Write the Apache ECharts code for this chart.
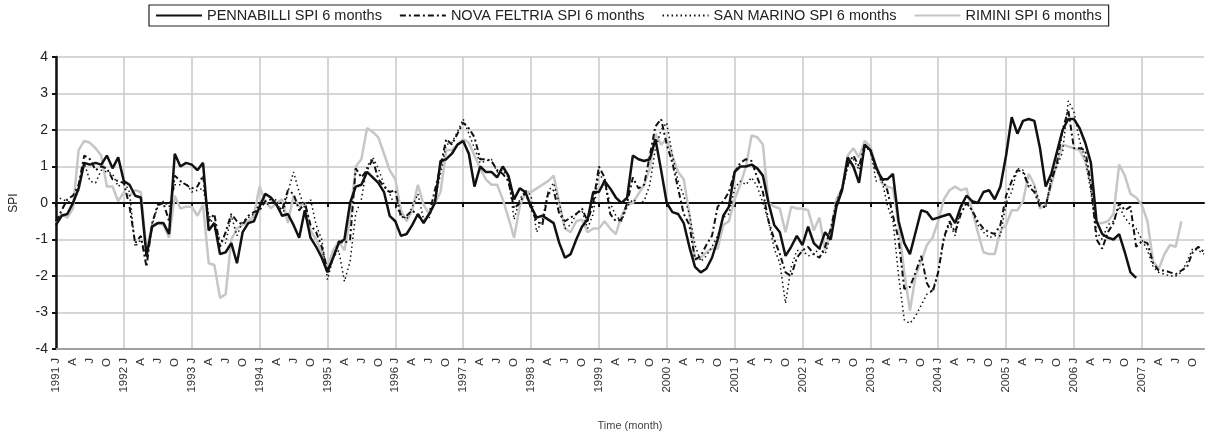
<!DOCTYPE html>
<html>
<head>
<meta charset="utf-8">
<script src="https://cdn.jsdelivr.net/npm/echarts@6/dist/echarts.min.js"></script>
<style>
  html, body { margin: 0; padding: 0; background: #fff; }
  #chart { width: 1206px; height: 436px; }
</style>
</head>
<body>
<div id="chart"></div>
<script>
// Monthly SPI (6 months) series, January 1991 to December 2007
const years = [1991, 1992, 1993, 1994, 1995, 1996, 1997, 1998, 1999, 2000, 2001, 2002, 2003, 2004, 2005, 2006, 2007];
const monthInitials = ['J', 'F', 'M', 'A', 'M', 'J', 'J', 'A', 'S', 'O', 'N', 'D'];
const yTicks = [-4, -3, -2, -1, 0, 1, 2, 3, 4];

const pennabilli = [
  -0.6, -0.35, -0.3, 0.0, 0.4, 1.1, 1.05, 1.1, 1.05, 1.3, 0.95, 1.25,
  0.6, 0.5, 0.2, 0.15, -1.45, -0.65, -0.55, -0.55, -0.85, 1.35, 1.0, 1.1,
  1.05, 0.9, 1.1, -0.75, -0.55, -1.4, -1.35, -1.1, -1.65, -0.8, -0.55, -0.5,
  -0.1, 0.25, 0.15, -0.05, -0.35, -0.3, -0.6, -0.95, -0.2, -0.95, -1.2, -1.5,
  -1.9, -1.5, -1.1, -1.0, 0.0, 0.45, 0.5, 0.85, 0.7, 0.55, 0.3, -0.35,
  -0.5, -0.9, -0.85, -0.6, -0.3, -0.55, -0.3, 0.0, 1.15, 1.2, 1.35, 1.6,
  1.7, 1.35, 0.45, 1.0, 0.85, 0.85, 0.7, 1.0, 0.75, 0.1, 0.4, 0.3,
  -0.1, -0.4, -0.35, -0.45, -0.55, -1.1, -1.5, -1.4, -1.0, -0.65, -0.45, 0.3,
  0.3, 0.6, 0.4, 0.15, 0.0, 0.15, 1.3, 1.2, 1.15, 1.2, 1.75, 0.9,
  0.0, -0.25, -0.3, -0.55, -1.2, -1.75, -1.9, -1.8, -1.5, -1.0, -0.35, -0.1,
  0.85, 1.0, 1.0, 1.05, 0.95, 0.75, 0.0, -0.6, -0.8, -1.45, -1.2, -0.9,
  -1.15, -0.65, -1.1, -1.25, -0.8, -1.0, -0.1, 0.35, 1.25, 1.0, 0.55, 1.6,
  1.45, 1.0, 0.65, 0.65, 0.8, -0.5, -1.1, -1.4, -0.8, -0.2, -0.25, -0.45,
  -0.4, -0.35, -0.3, -0.55, -0.1, 0.2, 0.05, 0.0, 0.3, 0.35, 0.1, 0.45,
  1.3, 2.35, 1.9, 2.25, 2.3, 2.25, 1.5, 0.45, 0.8, 1.4, 2.0, 2.3,
  2.3, 2.05, 1.65, 1.1, -0.5, -0.85, -0.95, -1.0, -0.85, -1.35, -1.9, -2.05,
  null, null, null, null, null, null, null, null, null, null, null, null
];

const novaFeltria = [
  -0.5, -0.2, 0.1, 0.2, 0.5, 1.3, 1.2, 0.9, 1.0, 0.95, 0.65, 0.6,
  0.55, -0.1, -1.1, -0.9, -1.75, -0.55, -0.05, 0.0, -0.5, 0.75, 0.6, 0.5,
  0.4, 0.45, 0.75, -0.5, -0.3, -1.2, -0.8, -0.3, -0.5, -0.6, -0.35, -0.25,
  -0.2, 0.05, 0.1, -0.05, -0.2, 0.35, 0.25, -0.2, 0.0, -0.6, -0.8, -1.2,
  -1.85, -1.5, -1.05, -1.1, -1.0, 0.95, 0.7, 0.9, 1.2, 0.65, 0.45, 0.3,
  0.35, -0.4, -0.35, -0.2, -0.35, -0.5, -0.3, 0.35, 1.0, 1.75, 1.6, 1.9,
  2.2, 2.05, 1.8, 1.2, 1.2, 1.15, 0.9, 0.8, 0.6, -0.15, 0.0, 0.3,
  -0.15, -0.5, -0.6, 0.25, 0.35, -0.3, -0.5, -0.4, -0.3, -0.15, -0.5, 0.0,
  1.0, 0.7, -0.3, -0.5, -0.45, 0.0, 0.7, 0.4, 0.5, 1.3, 2.1, 2.3,
  1.6, 1.1, 0.4, -0.3, -0.6, -1.55, -1.45, -1.15, -0.9, -0.1, 0.05, 0.3,
  0.85, 1.1, 1.2, 1.15, 0.7, 0.3, -0.5, -1.0, -1.4, -1.9, -2.0, -1.5,
  -1.3, -1.2, -1.4, -1.5, -1.2, -0.7, 0.0, 0.4, 1.05, 1.3, 1.0, 1.6,
  1.45, 0.9, 0.7, 0.35, -0.35, -1.0, -2.35, -2.3, -1.9, -1.45, -2.2, -2.45,
  -1.9, -0.95, -0.5, -0.8, -0.3, 0.0, -0.2, -0.5, -0.7, -0.8, -0.85, -0.6,
  0.2, 0.6, 0.9, 0.85, 0.45, 0.3, -0.1, -0.1, 0.6, 1.1, 2.0, 2.55,
  1.5, 1.5, 1.45, 0.5, -1.0, -1.25, -0.8, -0.55, 0.0, -0.2, -0.1, -1.2,
  -1.05, -1.1, -1.65, -1.85, -1.85, -1.9, -1.95, -1.85, -1.75, -1.35, -1.2, -1.35
];

const sanMarino = [
  0.2, 0.1, 0.05, 0.0, 0.35, 1.1, 0.6, 0.55, 0.9, 0.85, 0.8, 0.45,
  0.6, 0.3, -1.2, -1.0, -1.5, -0.6, -0.1, 0.05, -0.1, 0.5, 0.5, 0.55,
  0.3, 0.35, 0.4, -0.3, -0.7, -1.0, -1.1, -0.35, -0.9, -0.5, -0.4, -0.3,
  0.0, -0.05, 0.0, 0.1, -0.4, 0.3, 0.85, 0.3, -0.15, 0.1, -0.6, -1.0,
  -2.1, -1.5, -1.3, -2.15, -1.6, -0.3, 0.1, 1.0, 1.25, 0.95, 0.5, 0.25,
  -0.1, -0.3, -0.45, -0.1, 0.25, -0.45, -0.4, 0.1, 0.8, 1.6, 1.65, 1.95,
  2.3, 1.9, 1.5, 1.1, 1.15, 1.2, 0.85, 0.9, 0.7, -0.45, 0.1, 0.35,
  0.2, -0.8, -0.45, 0.3, 0.55, 0.0, -0.7, -0.6, -0.3, -0.2, -0.7, -0.3,
  0.85, 0.55, 0.0, -0.35, -0.5, -0.1, 0.1, 0.0, 0.05, 0.5, 1.5, 2.0,
  2.2, 1.3, 0.6, 0.2, -0.3, -1.15, -1.6, -1.45, -1.2, -0.9, -0.4, -0.3,
  0.4, 0.6, 0.5, 0.7, 0.45, 0.0, -0.5, -1.25, -1.65, -2.75, -1.75, -1.3,
  -1.3, -1.45, -1.4, -1.25, -1.4, -0.9, 0.0, 0.35, 1.0, 1.2, 0.9, 1.45,
  1.5, 0.6, 0.65, -0.05, -0.5, -2.0, -3.2, -3.3, -3.1, -2.8, -2.5, -2.4,
  -1.9, -1.0, -0.55, -0.9, -0.1, 0.0, -0.2, -0.6, -0.8, -0.95, -0.9, -0.9,
  0.0, 0.3, 0.95, 0.9, 0.5, 0.45, 0.0, -0.15, 0.7, 1.0, 1.4, 2.8,
  2.5, 1.7, 1.2, 0.3, -0.8, -1.0, -0.6, -0.5, -0.1, -0.4, -0.6, -0.7,
  -1.0, -1.3, -1.75, -1.9, -1.95, -2.0, -2.0, -1.9, -1.6, -1.25, -1.3, -1.4
];

const rimini = [
  -0.55, -0.3, -0.4, -0.15, 1.45, 1.7, 1.65, 1.5, 1.3, 0.45, 0.45, 0.05,
  0.3, 0.2, 0.35, 0.3, -1.3, -0.6, -0.55, -0.6, -0.95, 0.2, -0.15, -0.1,
  -0.1, -0.35, -0.05, -1.65, -1.7, -2.6, -2.5, -1.0, -0.7, -0.6, -0.5, -0.35,
  0.45, 0.05, -0.15, 0.0, 0.1, -0.55, 0.2, -0.1, 0.0, -0.75, -1.0, -1.35,
  -1.75, -1.3, -1.05, -1.3, -0.4, 1.0, 1.2, 2.05, 1.95, 1.8, 1.35, 0.9,
  0.65, -0.2, -0.5, -0.2, 0.5, -0.05, -0.3, 0.0, 0.3, 1.45, 1.45, 1.6,
  1.75, 1.65, 1.3, 0.95, 0.65, 0.5, 0.5, 0.1, -0.4, -0.95, -0.1, 0.3,
  0.3, 0.4, 0.5, 0.6, 0.75, 0.0, -0.7, -0.8, -0.5, -0.45, -0.8, -0.7,
  -0.7, -0.5, -0.7, -0.85, -0.35, -0.05, 0.0, 0.25, 0.5, 0.95, 1.9, 1.6,
  1.75, 1.3, 0.85, 0.65, -0.3, -1.55, -1.5, -1.35, -1.25, -1.25, -0.6, -0.5,
  0.1, 0.5, 1.0, 1.85, 1.8, 1.6, 0.0, -0.1, -0.15, -0.8, -0.1, -0.15,
  -0.15, -0.2, -0.75, -0.4, -1.3, -0.8, 0.1, 0.4, 1.3, 1.5, 1.25, 1.7,
  1.55, 1.0, 0.55, 0.45, 0.4, -0.6, -1.9, -2.95, -2.0, -1.6, -1.15, -0.95,
  -0.5, 0.1, 0.35, 0.45, 0.35, 0.4, -0.2, -0.8, -1.35, -1.4, -1.4, -0.75,
  -0.6, -0.2, -0.2, 0.05, 0.8, 0.5, -0.15, -0.05, 0.5, 1.1, 1.6, 1.55,
  1.5, 1.45, 1.15, 0.5, -0.55, -0.55, -0.5, -0.3, 1.05, 0.75, 0.25, 0.15,
  -0.05, -0.5, -1.6, -1.8, -1.4, -1.15, -1.2, -0.5, null, null, null, null
];

// Category labels: "1991 J" for January, month initials otherwise
const categories = [];
years.forEach(function (y) {
  monthInitials.forEach(function (m, k) {
    categories.push(k === 0 ? y + ' J' : m);
  });
});

const font = "'Liberation Sans', Arial, sans-serif";
const isQuarter = function (i) { return i % 3 === 0; };
const isYearStart = function (i) { return i % 12 === 0; };

const chart = echarts.init(document.getElementById('chart'), null, { renderer: 'canvas' });

chart.setOption({
  animation: false,
  backgroundColor: '#ffffff',
  legend: {
    top: 5,
    left: 149,
    itemWidth: 46,
    itemHeight: 10,
    itemGap: 17,
    padding: [3, 7, 3, 6],
    borderColor: '#222',
    borderWidth: 1.2,
    itemStyle: { opacity: 0 },
    textStyle: { fontFamily: font, fontSize: 14.5, color: '#222' }
  },
  grid: { left: 54, right: 2, top: 57, height: 297, containLabel: false },
  xAxis: [
    {
      type: 'category',
      data: categories,
      boundaryGap: false,
      axisLine: { onZero: false, lineStyle: { color: '#a0a0a0', width: 2 } },
      axisTick: { show: false },
      axisLabel: {
        interval: isQuarter,
        rotate: 90,
        margin: 9,
        fontFamily: font,
        fontSize: 11.5,
        color: '#333'
      },
      splitLine: { show: true, interval: isYearStart, lineStyle: { color: '#c8c8c8', width: 1.5 } },
      name: 'Time (month)',
      nameLocation: 'middle',
      nameGap: 71,
      nameTextStyle: { fontFamily: font, fontSize: 11, color: '#444' }
    },
    {
      type: 'category',
      data: categories,
      boundaryGap: false,
      position: 'bottom',
      axisLine: { onZero: true, lineStyle: { color: '#111', width: 2 } },
      axisTick: { show: true, interval: isYearStart, length: 4, lineStyle: { color: '#111', width: 2 } },
      axisLabel: { show: false },
      splitLine: { show: false }
    }
  ],
  yAxis: {
    type: 'value',
    min: yTicks[0],
    max: yTicks[yTicks.length - 1],
    interval: 1,
    axisLine: { show: true, lineStyle: { color: '#111', width: 2.5 } },
    axisTick: { show: true, length: 4, lineStyle: { color: '#111', width: 2 } },
    axisLabel: { fontFamily: font, fontSize: 14, color: '#222', margin: 8 },
    splitLine: { show: true, lineStyle: { color: '#c8c8c8', width: 1.5 } },
    name: 'SPI',
    nameLocation: 'middle',
    nameGap: 36,
    nameTextStyle: { fontFamily: font, fontSize: 12, color: '#222' }
  },
  series: [
    {
      name: 'PENNABILLI SPI 6 months',
      type: 'line',
      data: pennabilli,
      symbol: 'none',
      z: 5,
      lineStyle: { color: '#111', width: 2.5 },
      itemStyle: { color: '#111' }
    },
    {
      name: 'NOVA FELTRIA SPI 6 months',
      type: 'line',
      data: novaFeltria,
      symbol: 'none',
      z: 4,
      lineStyle: { color: '#111', width: 2, type: [6, 3, 2, 3] },
      itemStyle: { color: '#111' }
    },
    {
      name: 'SAN MARINO SPI 6 months',
      type: 'line',
      data: sanMarino,
      symbol: 'none',
      z: 4,
      lineStyle: { color: '#111', width: 1.5, type: [1.5, 3] },
      itemStyle: { color: '#111' }
    },
    {
      name: 'RIMINI SPI 6 months',
      type: 'line',
      data: rimini,
      symbol: 'none',
      z: 3,
      lineStyle: { color: '#c6c6c6', width: 2.5 },
      itemStyle: { color: '#c6c6c6' }
    }
  ]
});
</script>
</body>
</html>
